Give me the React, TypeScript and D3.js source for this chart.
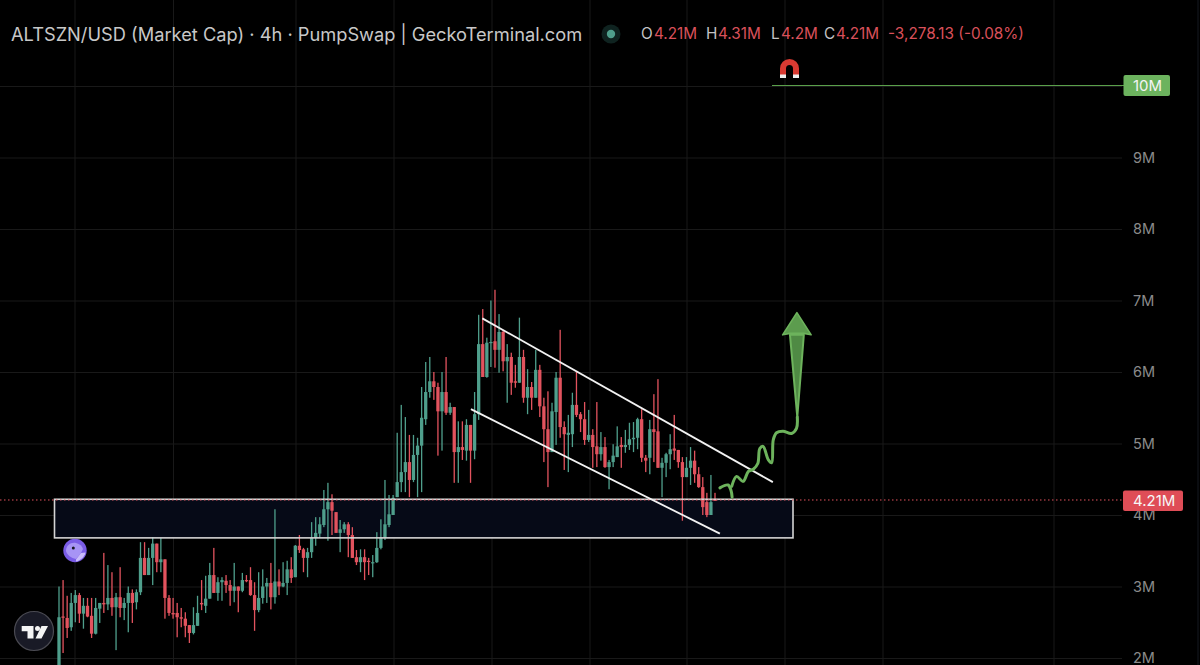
import React from "react";
import * as d3 from "d3";

const open = [
1.9,2.58,2.56,2.43,2.77,2.88,2.62,2.73,2.59,2.34,
2.69,2.77,2.75,2.84,2.71,2.85,2.7,2.77,2.91,2.78,
2.92,3.4,3.16,3.4,3.6,3.34,3.38,2.84,2.63,2.63,
2.57,2.55,2.46,2.35,2.45,2.77,2.73,2.83,3.16,2.91,
3.06,3.08,3.02,2.94,3.0,2.94,3.09,3.09,2.88,2.67,
2.84,3.0,3.05,2.85,3.07,3.0,3.05,3.24,3.13,3.57,
3.52,3.4,3.48,3.68,3.74,3.86,4.08,4.18,4.04,3.75,
3.8,3.87,3.72,3.41,3.34,3.41,3.36,3.33,3.34,3.54,
3.68,3.86,4.0,4.25,4.46,4.6,4.74,4.49,4.84,4.97,
5.34,5.72,5.87,5.79,5.45,5.72,5.43,5.51,4.88,4.95,
4.9,5.26,4.9,5.41,6.39,5.93,6.41,6.43,6.31,6.56,
6.15,6.21,5.87,5.85,6.21,5.64,5.79,5.64,6.03,5.52,
5.2,4.88,5.44,5.92,5.23,5.12,5.13,5.54,5.41,5.34,
5.05,5.12,4.96,4.85,4.95,4.67,4.74,4.81,4.98,4.95,
4.98,5.06,5.08,5.34,4.8,4.8,5.2,5.17,4.66,4.73,
4.85,4.93,4.91,4.74,4.53,4.66,4.76,4.57,4.39,4.18,
4.0,4.215];
const high = [
3.0,3.09,2.87,2.91,2.95,2.91,2.84,2.84,2.84,2.84,
2.77,3.47,3.3,3.2,2.91,3.27,2.84,3.0,2.96,2.96,
3.62,3.62,3.54,3.69,3.6,3.68,3.38,2.88,2.84,2.77,
2.7,2.64,2.46,2.71,2.87,3.09,3.15,3.33,3.54,3.13,
3.13,3.16,3.09,3.33,3.0,3.19,3.16,3.27,3.06,3.2,
3.24,3.12,3.33,4.08,3.24,3.34,3.36,3.41,3.58,3.72,
3.54,3.54,3.9,3.97,3.97,4.35,4.45,4.29,4.04,3.93,
3.9,3.9,3.83,3.51,3.52,3.52,3.4,3.44,3.76,3.94,
4.49,4.28,4.28,5.15,5.54,5.37,5.12,5.12,5.08,5.79,
6.14,6.21,6.0,5.85,6.0,6.21,5.57,5.51,5.31,5.31,
5.34,5.26,5.72,6.8,6.88,6.48,7.0,7.15,6.81,6.59,
6.39,6.27,6.1,6.76,6.31,6.04,5.86,6.31,6.1,5.64,
5.73,5.57,6.0,6.59,5.31,5.4,5.71,6.0,5.44,5.58,
5.47,5.2,5.58,5.16,5.09,4.77,4.99,5.24,5.09,5.19,
5.29,5.3,5.36,5.48,4.84,5.33,5.69,5.9,4.8,4.87,
5.13,5.4,4.91,4.81,4.81,4.95,4.9,4.67,4.53,4.31,
4.56,4.31];
const low = [
1.8,2.07,2.28,2.38,2.5,2.49,2.41,2.57,2.28,2.33,
2.49,2.63,2.67,2.59,2.11,2.57,2.53,2.36,2.49,2.68,
2.88,3.16,3.16,3.02,3.2,3.2,2.55,2.59,2.55,2.29,
2.43,2.29,2.21,2.33,2.45,2.67,2.63,2.83,2.91,2.8,
2.8,2.91,2.73,2.78,2.64,2.92,3.06,2.87,2.38,2.64,
2.76,2.77,2.68,2.76,2.88,2.99,2.88,3.05,3.13,3.47,
3.2,3.13,3.4,3.57,3.69,3.83,3.64,3.72,3.75,3.48,
3.75,3.41,3.4,3.3,3.2,3.09,3.16,3.13,3.33,3.52,
3.65,3.83,4.0,4.25,4.32,4.32,4.25,4.46,4.25,4.32,
5.26,5.64,5.61,4.83,4.9,5.4,5.4,4.45,4.45,4.77,
4.76,4.45,4.78,5.33,5.93,5.92,6.07,6.06,5.99,6.01,
5.57,5.68,5.78,5.85,5.57,5.41,5.47,5.64,5.37,4.74,
4.39,4.88,4.98,5.08,4.63,4.6,4.95,5.37,5.16,4.98,
5.02,4.66,4.67,4.76,4.66,4.36,4.67,4.81,4.66,4.87,
4.91,4.88,4.92,4.74,4.6,4.57,4.74,4.66,4.25,4.53,
4.64,4.77,4.66,3.92,4.53,4.42,4.45,4.38,4.0,3.97,
4.0,4.2];
const close = [
2.57,2.57,2.42,2.77,2.88,2.62,2.73,2.58,2.34,2.70,
2.77,2.75,2.84,2.71,2.85,2.7,2.77,2.91,2.77,2.92,
3.4,3.16,3.4,3.6,3.34,3.38,2.84,2.63,2.61,2.57,
2.55,2.45,2.35,2.46,2.63,2.75,2.83,3.16,2.91,3.06,
3.09,3.02,2.94,3.0,2.94,3.09,3.08,2.88,2.67,2.84,
3.0,3.05,2.85,3.07,3.0,3.05,3.24,3.12,3.57,3.51,
3.4,3.48,3.68,3.75,3.87,4.08,4.18,4.06,3.75,3.8,
3.87,3.72,3.4,3.34,3.41,3.34,3.35,3.34,3.54,3.68,
3.87,4.01,4.24,4.46,4.6,4.74,4.49,4.84,4.97,5.36,
5.72,5.87,5.79,5.45,5.72,5.43,5.51,4.88,4.95,4.91,
5.26,4.9,5.41,6.39,5.93,6.41,6.42,6.31,6.56,6.15,
6.21,5.85,5.85,6.21,5.64,5.79,5.64,6.03,5.52,5.2,
4.88,5.45,5.92,5.23,5.13,5.15,5.54,5.4,5.34,5.05,
5.12,4.95,4.85,4.95,4.67,4.74,4.83,4.96,4.95,4.98,
5.06,5.08,5.34,4.8,4.76,5.2,5.16,4.66,4.73,4.85,
4.92,4.9,4.74,4.53,4.66,4.76,4.57,4.39,4.11,4.0,
4.18,4.205];

const priceTicks = [2, 3, 4, 5, 6, 7, 8, 9];
const gridX = [75, 173.5, 296, 394, 492, 590, 687, 785, 883, 1054];
const lastPrice = 4.21;
const targetPrice = 10;
const zoneTop = 4.22;
const zoneBottom = 3.68;
// channel lines: [candle index, price]
const upperChannel: [number, number][] = [[103.9, 6.75], [175.2, 4.46]];
const lowerChannel: [number, number][] = [[101.1, 5.48], [162.2, 3.74]];
// hand drawn projection: [candle index, price]
const squiggleA: [number, number][] = [[162.2, 4.38], [164.2, 4.42], [164.9, 4.35], [165.2, 4.25]];
const squiggleB: [number, number][] = [[165.1, 4.40], [166.3, 4.54], [167.9, 4.47], [169.2, 4.61], [170.4, 4.64], [171.5, 4.72], [172.0, 4.93], [172.8, 4.96], [174.1, 4.77], [174.9, 4.73], [175.3, 5.05], [176.1, 5.15], [177.7, 5.17], [179.8, 5.14], [181.0, 5.21], [181.2, 5.37]];
const arrowShaft: [number, number][] = [[181.2, 5.37], [179.4, 6.52], [182.8, 6.52]];
const arrowHead: [number, number][] = [[177.6, 6.52], [181.1, 6.83], [184.6, 6.52], [182.8, 6.54], [179.4, 6.54]];

const legend = [
  { t: "O", x: 641, c: "#c4c4c4" }, { t: "4.21M", x: 654, c: "#d9505a" },
  { t: "H", x: 706, c: "#c4c4c4" }, { t: "4.31M", x: 718, c: "#d9505a" },
  { t: "L", x: 771, c: "#c4c4c4" }, { t: "4.2M", x: 781, c: "#d9505a" },
  { t: "C", x: 824, c: "#c4c4c4" }, { t: "4.21M", x: 836, c: "#d9505a" },
  { t: "-3,278.13 (-0.08%)", x: 888, c: "#d9505a" },
];

const RED = "#e2535e";
const GREEN = "#4f9f8c";
const FONT = "Inter, Roboto, sans-serif";

export default function App() {
  const x = d3.scaleLinear().domain([0, 161]).range([59, 715]);
  const y = d3.scaleLinear().domain([2, 10]).range([658, 86]);
  const line = d3.line<[number, number]>().x(d => x(d[0])).y(d => y(d[1]));
  const curve = d3.line<[number, number]>().x(d => x(d[0])).y(d => y(d[1])).curve(d3.curveCatmullRom.alpha(0.5));
  const poly = (p: [number, number][]) => line(p) + "Z";
  const bw = 3.3;
  const zy0 = y(zoneTop);
  const zy1 = y(zoneBottom);

  return (
    <svg width={1200} height={665} viewBox="0 0 1200 665"
      style={{ position: "fixed", left: 0, top: 0, background: "#000", display: "block" }}
      fontFamily={FONT}>
      <rect width={1200} height={665} fill="#000" />
      {gridX.map(g => <line key={g} x1={g} x2={g} y1={0} y2={665} stroke="#191919" />)}
      {[...priceTicks, targetPrice].map(t => (
        <line key={t} x1={0} x2={1122} y1={y(t) + 0.5} y2={y(t) + 0.5} stroke="#191919" />
      ))}
      <line x1={1198} x2={1198} y1={0} y2={665} stroke="#141820" />

      <rect x={54.5} y={zy0} width={738.5} height={zy1 - zy0} fill="#060a17" />

      {open.map((o, i) => {
        const c = close[i];
        const col = c >= o ? GREEN : RED;
        const top = y(Math.max(o, c));
        const bot = y(Math.min(o, c));
        return (
          <g key={i} fill={col}>
            <rect x={x(i) - 0.65} width={1.3} y={y(high[i])} height={y(low[i]) - y(high[i])} />
            <rect x={x(i) - bw / 2} width={bw} y={top} height={Math.max(bot - top, 1.2)} />
          </g>
        );
      })}

      <rect x={54.5} y={zy0} width={738.5} height={zy1 - zy0} fill="none" stroke="#d4d4d4" strokeWidth={1.6} />
      <line x1={0} x2={1123} y1={y(lastPrice)} y2={y(lastPrice)} stroke="#e2535e" strokeWidth={1} strokeDasharray="1.5 2.5" />

      <path d={line(upperChannel)!} stroke="#f2f2f2" strokeWidth={1.8} fill="none" />
      <path d={line(lowerChannel)!} stroke="#f2f2f2" strokeWidth={1.8} fill="none" />

      <path d={curve(squiggleA)!} stroke="#6db35c" strokeWidth={3} fill="none" strokeLinecap="round" />
      <path d={curve(squiggleB)!} stroke="#6db35c" strokeWidth={3} fill="none" strokeLinecap="round" />
      <path d={poly(arrowShaft)} fill="#4f8a44" stroke="#6db35c" strokeWidth={2} strokeLinejoin="round" />
      <path d={poly(arrowHead)} fill="#5c9c4e" stroke="#6db35c" strokeWidth={1.6} strokeLinejoin="round" />

      {/* target line + magnet */}
      <line x1={772} x2={1124} y1={y(targetPrice) - 0.5} y2={y(targetPrice) - 0.5} stroke="#5aa04a" strokeWidth={1} />
      <g>
        <path d="M780 78 V68.5 A9.5 9.5 0 0 1 799 68.5 V78 H793 V68.5 A3.5 3.5 0 0 0 786 68.5 V78 Z" fill="#d83a32" />
        <rect x={780} y={74.5} width={6} height={3.5} fill="#eee" />
        <rect x={793} y={74.5} width={6} height={3.5} fill="#eee" />
      </g>
      <rect x={1123.5} y={75} width={46.5} height={21} rx={2} fill="#6cb35e" />
      <text x={1133} y={91} fontSize={15} fill="#f4f4f4">10M</text>

      {/* axis labels */}
      {priceTicks.map(t => (
        <text key={t} x={1133} y={y(t) + 5} fontSize={14.5} fill="#8a8a8a">{t}M</text>
      ))}
      <rect x={1123} y={490.5} width={60} height={20.5} rx={2} fill="#df4d57" />
      <text x={1133} y={506} fontSize={15} fill="#f6f6f6">{lastPrice.toFixed(2)}M</text>

      {/* header */}
      <text x={11} y={41} fontSize={18.25} fill="#c8c8c8">ALTSZN/USD (Market Cap) · 4h · PumpSwap | GeckoTerminal.com</text>
      <circle cx={611} cy={34} r={9.5} fill="#0f2320" />
      <circle cx={611} cy={34} r={4.2} fill="#4f9f8c" />
      {legend.map(l => (
        <text key={l.x} x={l.x} y={39} fontSize={15.3} fill={l.c}>{l.t}</text>
      ))}

      {/* gecko badge */}
      <g>
        <circle cx={75} cy={550.5} r={11.7} fill="#7a5ce6" />
        <path d="M66 551 C66 545 71 542 76 543 C80 544 82 546 83 549 L81 553 L76 559 C71 558 67 555 66 551Z" fill="#a794f5" />
        <path d="M76 559.5 L81 553 L85.5 552.5 C84.5 557 80 561 76 561.5 Z" fill="#c9bcfa" />
        <circle cx={73.3} cy={548} r={1.5} fill="#16161f" />
      </g>

      {/* TradingView badge */}
      <g>
        <circle cx={34} cy={631} r={19.5} fill="#191a26" stroke="#4a4a52" strokeWidth={1.2} />
        <path d="M21.7 626 H33.5 V638.5 H27.5 V631.3 H21.7 Z" fill="#f4f4f4" />
        <circle cx={37.5} cy={628.6} r={2.5} fill="#f4f4f4" />
        <path d="M41.5 626 H48 L41.5 638.5 H35.5 Z" fill="#f4f4f4" />
      </g>
    </svg>
  );
}
